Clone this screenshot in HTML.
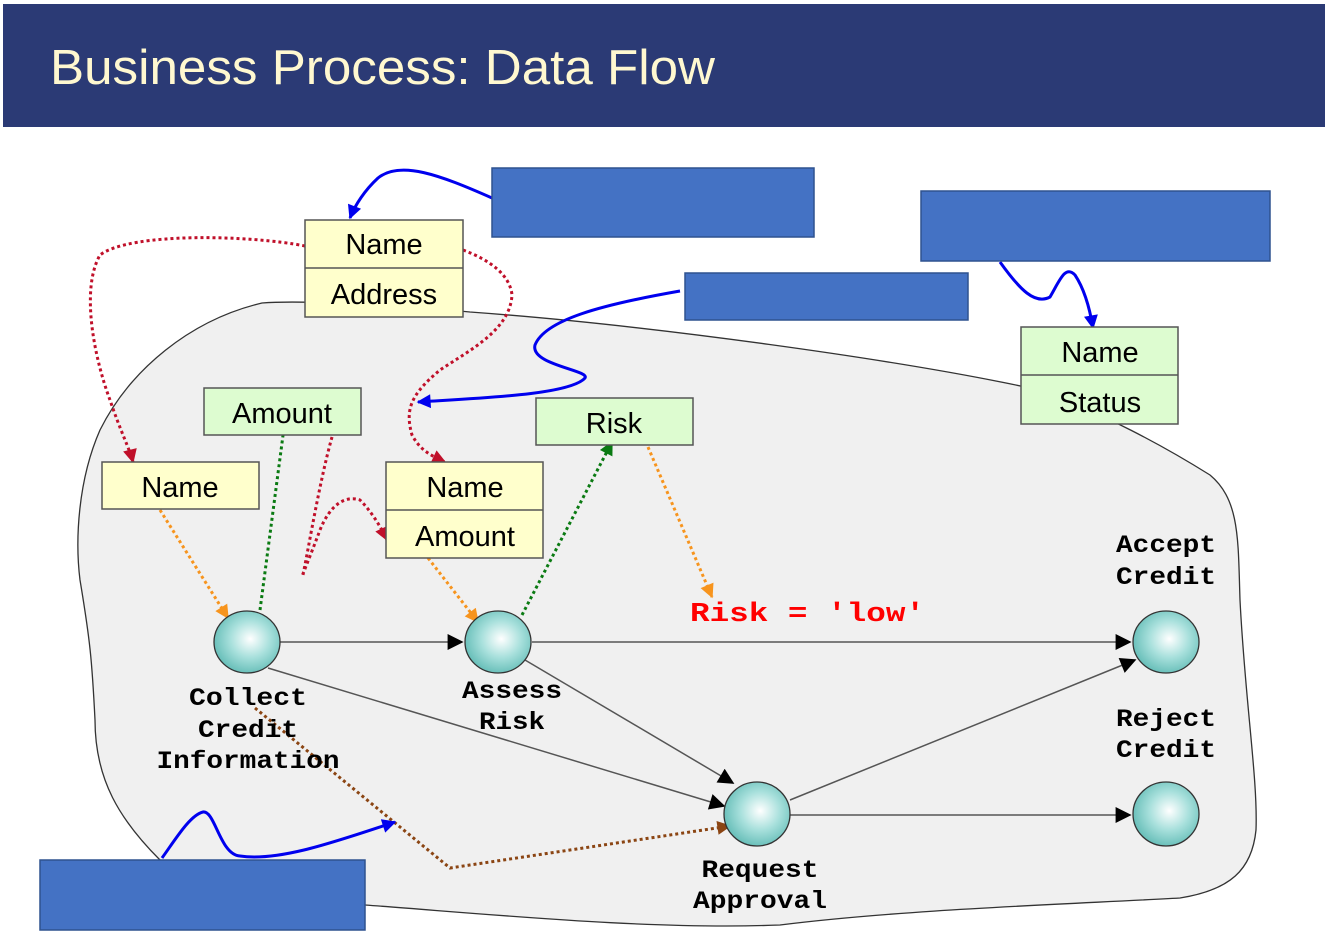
<!DOCTYPE html>
<html><head><meta charset="utf-8"><style>
html,body{margin:0;padding:0;background:#fff;}
svg{display:block}
.sf{font-family:"Liberation Sans",sans-serif;font-size:29px;fill:#000}
.mono{font-family:"Liberation Mono",monospace;font-weight:bold;font-size:25px;fill:#000}
</style></head><body>
<svg width="1334" height="939" viewBox="0 0 1334 939" xmlns="http://www.w3.org/2000/svg">
<defs>
<radialGradient id="g" cx="0.55" cy="0.45" r="0.6">
<stop offset="0" stop-color="#ffffff"/><stop offset="0.5" stop-color="#a8e0dc"/><stop offset="1" stop-color="#5fbab4"/>
</radialGradient>
<marker id="abk" viewBox="0 0 10 10" refX="9" refY="5" markerWidth="24" markerHeight="16" orient="auto" markerUnits="userSpaceOnUse"><path d="M0,0L10,5L0,10z" fill="#000"/></marker>
<marker id="ar" viewBox="0 0 10 10" refX="9" refY="5" markerWidth="20" markerHeight="14" orient="auto" markerUnits="userSpaceOnUse"><path d="M0,0L10,5L0,10z" fill="#c0102a"/></marker>
<marker id="ao" viewBox="0 0 10 10" refX="9" refY="5" markerWidth="20" markerHeight="14" orient="auto" markerUnits="userSpaceOnUse"><path d="M0,0L10,5L0,10z" fill="#f7941d"/></marker>
<marker id="ag" viewBox="0 0 10 10" refX="9" refY="5" markerWidth="20" markerHeight="14" orient="auto" markerUnits="userSpaceOnUse"><path d="M0,0L10,5L0,10z" fill="#0a7a12"/></marker>
<marker id="abr" viewBox="0 0 10 10" refX="9" refY="5" markerWidth="20" markerHeight="14" orient="auto" markerUnits="userSpaceOnUse"><path d="M0,0L10,5L0,10z" fill="#8b4513"/></marker>
<marker id="abl" viewBox="0 0 10 10" refX="9" refY="5" markerWidth="22" markerHeight="14" orient="auto" markerUnits="userSpaceOnUse"><path d="M0,0L10,5L0,10z" fill="#0000ee"/></marker>
</defs>
<rect x="3" y="4" width="1322" height="123" fill="#2b3a75"/>
<text x="50" y="84" font-family="'Liberation Sans',sans-serif" font-size="49" fill="#fff8d0" textLength="665" lengthAdjust="spacingAndGlyphs">Business Process: Data Flow</text>

<path d="M262,303 C300,300 400,305 470,312 C650,325 900,360 1030,388 C1100,410 1170,450 1210,475 C1240,500 1238,540 1240,600 C1245,700 1258,780 1256,830 C1252,870 1230,890 1180,898 C1050,905 900,910 780,925 C650,930 500,915 365,905 C250,895 170,870 160,860 C120,820 95,780 95,720 C92,660 90,640 80,580 C75,540 78,480 100,430 C130,370 190,320 262,303 Z" fill="#f0f0f0" stroke="#333" stroke-width="1.3"/>

<g stroke="#555" stroke-width="1.5" fill="none">
<line x1="280" y1="642" x2="462" y2="642" marker-end="url(#abk)"/>
<line x1="532" y1="642" x2="1130" y2="642" marker-end="url(#abk)"/>
<line x1="268" y1="668" x2="724" y2="806" marker-end="url(#abk)"/>
<line x1="525" y1="660" x2="733" y2="783" marker-end="url(#abk)"/>
<line x1="790" y1="800" x2="1135" y2="660" marker-end="url(#abk)"/>
<line x1="790" y1="815" x2="1130" y2="815" marker-end="url(#abk)"/>
</g>

<g fill="none" stroke-width="3" stroke-dasharray="3,3">
<path d="M305,246 C250,235 130,232 100,255 C80,290 95,360 110,400 C120,430 130,450 133,462" stroke="#c0102a" marker-end="url(#ar)"/>
<path d="M463,250 C490,260 510,275 512,295 C510,330 470,350 440,370 C410,395 405,410 412,435 C420,450 430,455 445,462" stroke="#c0102a" marker-end="url(#ar)"/>
<path d="M332,437 C320,480 310,540 303,575 C300,580 305,570 320,530 C330,505 345,495 360,500 C370,510 380,525 387,540" stroke="#c0102a" marker-end="url(#ar)"/>
<path d="M160,510 L228,618" stroke="#f7941d" marker-end="url(#ao)"/>
<path d="M428,558 L478,622" stroke="#f7941d" marker-end="url(#ao)"/>
<path d="M648,447 L712,597" stroke="#f7941d" marker-end="url(#ao)"/>
<path d="M260,610 L287,405" stroke="#0a7a12" marker-end="url(#ag)"/>
<path d="M522,615 L612,442" stroke="#0a7a12" marker-end="url(#ag)"/>
<path d="M255,708 L450,868 L730,826" stroke="#8b4513" marker-end="url(#abr)"/>
</g>

<g fill="none" stroke="#0000ee" stroke-width="3">
<path d="M492,198 C440,175 400,160 378,178 C365,190 355,205 350,218" marker-end="url(#abl)"/>
<path d="M680,291 C600,305 545,320 535,345 C530,365 590,370 585,378 C570,395 480,398 418,402" marker-end="url(#abl)"/>
<path d="M1000,262 C1020,290 1035,305 1050,297 C1060,280 1065,265 1075,275 C1085,290 1090,310 1093,328" marker-end="url(#abl)"/>
<path d="M162,858 C175,840 190,815 203,812 C215,810 220,855 240,856 C280,862 340,840 395,822" marker-end="url(#abl)"/>
</g>

<g fill="#4472c4" stroke="#2f528f" stroke-width="1.5">
<rect x="492" y="168" width="322" height="69"/>
<rect x="921" y="191" width="349" height="70"/>
<rect x="685" y="273" width="283" height="47"/>
<rect x="40" y="860" width="325" height="70"/>
</g>

<g stroke="#555" stroke-width="1.5">
<rect x="305" y="220" width="158" height="97" fill="#ffffcc"/><line x1="305" y1="268" x2="463" y2="268"/>
<rect x="1021" y="327" width="157" height="97" fill="#ddfcd0"/><line x1="1021" y1="375" x2="1178" y2="375"/>
<rect x="204" y="388" width="157" height="47" fill="#ddfcd0"/>
<rect x="536" y="398" width="157" height="47" fill="#ddfcd0"/>
<rect x="102" y="462" width="157" height="47" fill="#ffffcc"/>
<rect x="386" y="462" width="157" height="96" fill="#ffffcc"/><line x1="386" y1="510" x2="543" y2="510"/>
</g>
<g class="sf" text-anchor="middle">
<text x="384" y="254">Name</text><text x="384" y="304">Address</text>
<text x="1100" y="362">Name</text><text x="1100" y="412">Status</text>
<text x="282" y="423">Amount</text>
<text x="614" y="433">Risk</text>
<text x="180" y="497">Name</text>
<text x="465" y="497">Name</text><text x="465" y="546">Amount</text>
</g>

<g fill="url(#g)" stroke="#333" stroke-width="1.3">
<ellipse cx="247" cy="642" rx="33" ry="31"/>
<ellipse cx="498" cy="642" rx="33" ry="31"/>
<ellipse cx="757" cy="814" rx="33" ry="32"/>
<ellipse cx="1166" cy="642" rx="33" ry="31"/>
<ellipse cx="1166" cy="814" rx="33" ry="32"/>
</g>
<g class="mono" text-anchor="middle">
<text x="248" y="705" textLength="118" lengthAdjust="spacingAndGlyphs">Collect</text>
<text x="248" y="737" textLength="100" lengthAdjust="spacingAndGlyphs">Credit</text>
<text x="248" y="768" textLength="183" lengthAdjust="spacingAndGlyphs">Information</text>
<text x="512" y="698" textLength="100" lengthAdjust="spacingAndGlyphs">Assess</text>
<text x="512" y="729" textLength="66" lengthAdjust="spacingAndGlyphs">Risk</text>
<text x="760" y="877" textLength="117" lengthAdjust="spacingAndGlyphs">Request</text>
<text x="760" y="908" textLength="134" lengthAdjust="spacingAndGlyphs">Approval</text>
<text x="1166" y="552" textLength="100" lengthAdjust="spacingAndGlyphs">Accept</text>
<text x="1166" y="584" textLength="100" lengthAdjust="spacingAndGlyphs">Credit</text>
<text x="1166" y="726" textLength="100" lengthAdjust="spacingAndGlyphs">Reject</text>
<text x="1166" y="757" textLength="100" lengthAdjust="spacingAndGlyphs">Credit</text>
</g>
<text x="690" y="621" font-family="'Liberation Mono',monospace" font-weight="bold" font-size="27" fill="#ff0000" textLength="235" lengthAdjust="spacingAndGlyphs">Risk = 'low'</text>
</svg>
</body></html>
